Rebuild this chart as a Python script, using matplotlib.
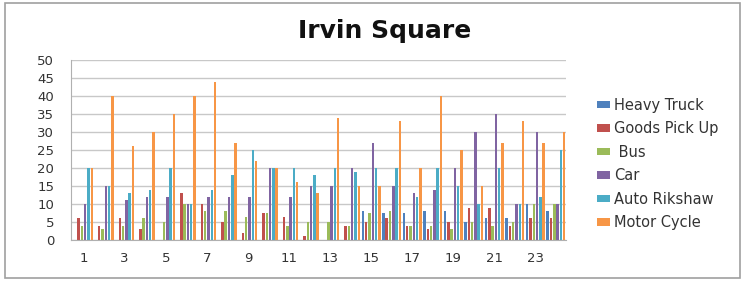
import matplotlib.pyplot as plt
import numpy as np
from matplotlib.patches import Rectangle

groups = list(range(1, 25))
series = ["Heavy Truck", "Goods Pick Up", " Bus", "Car", "Auto Rikshaw", "Motor Cycle"]
colors = ["#4F81BD", "#C0504D", "#9BBB59", "#8064A2", "#4BACC6", "#F79646"]

heavy_truck = [0, 0, 0, 0, 0, 0, 0, 0, 0, 0, 0, 0, 0, 0, 8, 7.4, 7.4, 8, 8, 5, 6, 6, 10, 8]
goods_pickup = [6, 4, 6, 3, 0, 13, 10, 5, 2, 7.4, 6.4, 1.2, 0, 4, 5, 6, 4, 3, 5, 9, 9, 4, 6, 6]
bus = [4, 3, 4, 6, 5, 10, 8, 8, 6.4, 7.4, 4, 5, 5, 4, 7.4, 8, 4, 4, 3, 5, 4, 5, 10, 10]
car = [10, 15, 11, 12, 12, 10, 12, 12, 12, 20, 12, 15, 15, 20, 27, 15, 13, 14, 20, 30, 35, 10, 30, 10]
auto_rikshaw = [20, 15, 13, 14, 20, 10, 14, 18, 25, 20, 20, 18, 20, 19, 20, 20, 12, 20, 15, 10, 20, 10, 12, 25]
motor_cycle = [20, 40, 26, 30, 35, 40, 44, 27, 22, 20, 16, 13, 34, 15, 15, 33, 20, 40, 25, 15, 27, 33, 27, 30]

data = [heavy_truck, goods_pickup, bus, car, auto_rikshaw, motor_cycle]

plt.rcParams['font.family'] = ['DejaVu Sans']
fig = plt.figure(figsize=(7.46, 2.81), dpi=100)

# chart frame
fig.patches.append(Rectangle((0.007, 0.01), 0.985, 0.98, transform=fig.transFigure,
                             fill=False, edgecolor="#a0a0a0", linewidth=1.2))

ax = fig.add_axes([0.095, 0.146, 0.664, 0.64])

x = np.arange(len(groups))
w = 0.12
step = 0.16
for i, (vals, c, name) in enumerate(zip(data, colors, series)):
    ax.bar(x + (i - 2.5) * step, vals, width=w, color=c, label=name)

ax.set_xlim(-0.62, len(groups) - 0.5)
ax.set_ylim(0, 50)
ax.set_yticks(range(0, 51, 5))
ax.set_xticks(x[::2])
ax.set_xticklabels([str(g) for g in groups[::2]])
ax.yaxis.grid(True, color="#c8c8c8", linewidth=1)
ax.set_axisbelow(True)
ax.tick_params(length=0, labelsize=9.5, colors="#333333")
ax.tick_params(axis='x', pad=9)
ax.tick_params(axis='y', pad=12)
for s in ["top", "right"]:
    ax.spines[s].set_visible(False)
for s in ["left", "bottom"]:
    ax.spines[s].set_color("#b0b0b0")

fig.text(0.515, 0.89, "Irvin Square", ha="center", va="center",
         fontsize=18, fontweight="bold", color="#111111")

leg = ax.legend(loc="upper left", bbox_to_anchor=(0.8, 0.652), bbox_transform=fig.transFigure,
                frameon=False, fontsize=10.5, borderpad=0, borderaxespad=0,
                handlelength=0.9, handleheight=0.4, labelspacing=0.58, handletextpad=0.3)
for t in leg.get_texts():
    t.set_color("#333333")

fig.savefig("out.png", dpi=100)
